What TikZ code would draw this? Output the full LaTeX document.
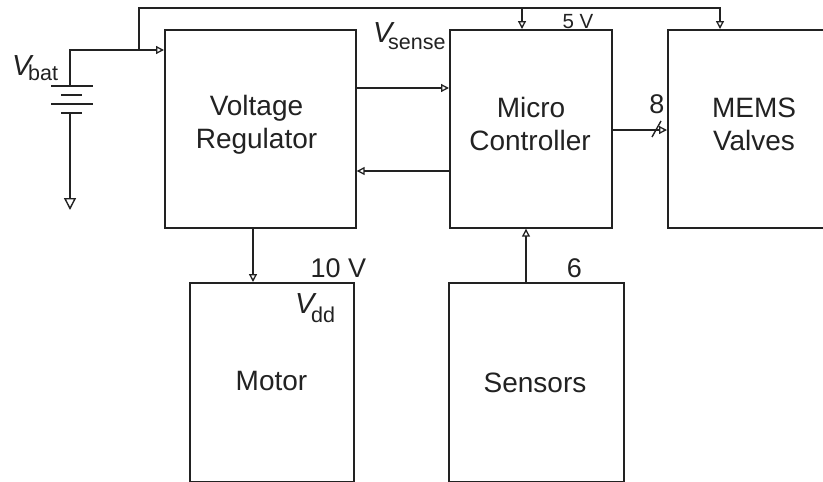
\documentclass[tikz,border=0pt]{standalone}
\usepackage{fontspec}
\setmainfont{Liberation Sans}
\usetikzlibrary{arrows.meta,calc}
\definecolor{ink}{HTML}{222222}
\newcommand{\vlabel}[3]{{\fontsize{29}{30}\selectfont\itshape V}\kern#3pt\raisebox{#2pt}{\fontsize{21.5}{24}\selectfont #1}}
\tikzset{
  blockbox/.style={draw=ink,line width=1.7pt,rectangle,inner sep=0pt,minimum width=#1},
  wire/.style={draw=ink,line width=1.7pt},
  arrowwire/.style={wire,-{Triangle[open,length=8pt,width=8pt,line width=1.3pt]}},
  groundwire/.style={wire,-{Triangle[open,length=12pt,width=12pt,line width=1.4pt]}},
  bigtext/.style={font=\fontsize{28}{33}\selectfont,text=ink,align=center,inner sep=0pt},
  labeltext/.style={font=\fontsize{27}{28}\selectfont,text=ink,inner sep=0pt},
  smalltext/.style={font=\fontsize{20.5}{22}\selectfont,text=ink,inner sep=0pt},
  vartext/.style={text=ink,inner sep=0pt},
}
\begin{document}
\begin{tikzpicture}[x=1pt,y=-1pt]
\clip (0,0) rectangle (823,482);
\fill[white] (0,0) rectangle (823,482);
% blocks
\node[blockbox=191pt,minimum height=198pt,anchor=north west] (vr) at (164,29) {};
\node[blockbox=162pt,minimum height=198pt,anchor=north west] (mc) at (449,29) {};
\node[blockbox=180pt,minimum height=198pt,anchor=north west] (mems) at (667,29) {};
\node[blockbox=164pt,minimum height=199pt,anchor=north west] (motor) at (189,282) {};
\node[blockbox=175pt,minimum height=199pt,anchor=north west] (sensors) at (448,282) {};
% block texts
\node[bigtext,anchor=base] (vrt1) at (256.5,115) {Voltage};
\node[bigtext,anchor=base] (vrt2) at (256.5,148) {Regulator};
\node[bigtext,anchor=base] (mct1) at (531,117) {Micro};
\node[bigtext,anchor=base] (mct2) at (530,150) {Controller};
\node[bigtext,anchor=base] (memst1) at (754,117) {MEMS};
\node[bigtext,anchor=base] (memst2) at (754,150) {Valves};
\node[bigtext,anchor=base] (motort) at (271.5,390) {Motor};
\node[bigtext,anchor=base] (sensorst) at (535,392) {Sensors};
% battery
\coordinate (b1) at (70,86);
\coordinate (b1l) at (51,86);  \coordinate (b1r) at (93,86);
\coordinate (b2l) at (61,95);  \coordinate (b2r) at (82,95);
\coordinate (b3l) at (51,104); \coordinate (b3r) at (93,104);
\coordinate (b4l) at (61,113); \coordinate (b4r) at (82,113);
\coordinate (b4) at (70,113);
\coordinate (gnd) at (70,210);
\coordinate (corner) at (70,50);
\coordinate (tap) at (139,50);
\coordinate (bus1) at (139,8);
\coordinate (bustap) at (522,8);
\coordinate (busend) at (720,8);
\draw[wire] (b1l) -- (b1r);
\draw[wire] (b2l) -- (b2r);
\draw[wire] (b3l) -- (b3r);
\draw[wire] (b4l) -- (b4r);
\draw[groundwire] (b4) -- (gnd);
% supply wiring
\draw[arrowwire] (b1) -- (corner) -- (tap) -- (tap -| vr.west);
\draw[arrowwire] (tap) -- (bus1) -- (busend) -- (busend |- mems.north);
\draw[arrowwire] (bustap) -- (bustap |- mc.north);
% signals
\coordinate (a1) at (355,88);
\coordinate (a2) at (449,171);
\coordinate (a3) at (611,130);
\coordinate (a4) at (253,227);
\coordinate (a5) at (526,282);
\draw[arrowwire] (a1) -- (a1 -| mc.west);
\draw[arrowwire] (a2) -- (a2 -| vr.east);
\draw[arrowwire] (a3) -- (a3 -| mems.west);
\draw[arrowwire] (a4) -- (a4 |- motor.north);
\draw[arrowwire] (a5) -- (a5 |- mc.south);
\coordinate (s1) at (652,137);
\coordinate (s2) at (661,121);
\draw[wire,line width=1.4pt] (s1) -- (s2);
% labels
\node[vartext,anchor=base west] (vb) at (12,75) {\vlabel{bat}{-5}{-3.3}};
\node[vartext,anchor=base west] (vs) at (373,42) {\vlabel{sense}{-7}{-4.3}};
\node[vartext,anchor=base west] (vd) at (295,313) {\vlabel{dd}{-9}{-3.3}};
\node[smalltext,anchor=base] (five) at (578,28) {5 V};
\node[labeltext,anchor=base] (eight) at (657,113) {8};
\node[labeltext,anchor=base] (ten) at (338.5,277) {10 V};
\node[labeltext,anchor=base] (six) at (574.5,277) {6};
\end{tikzpicture}
\end{document}
